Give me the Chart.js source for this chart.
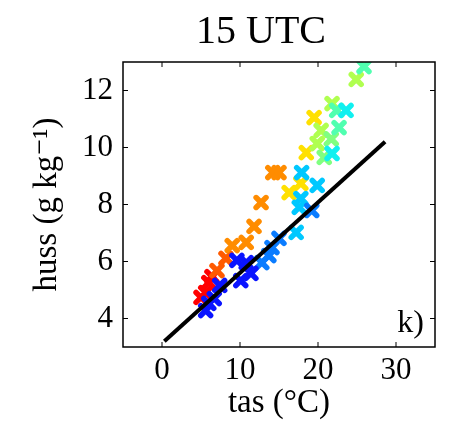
<!DOCTYPE html>
<html>
<head>
<meta charset="utf-8">
<script src="https://cdn.jsdelivr.net/npm/chart.js@4/dist/chart.umd.min.js"></script>
<style>
  body { margin: 0; background: #fff; }
  #wrap { width: 466px; height: 423px; }
</style>
</head>
<body>
<div id="wrap"><canvas id="chart" width="466" height="423"></canvas></div>
<script>
// axis ticks
const xTicks = [0, 10, 20, 30];
const yTicks = [4, 6, 8, 10, 12];

// scatter groups (tas in degC, huss in g/kg), one per colour
const tasRed = [5.0, 5.6, 6.0, 6.4];
const hussRed = [4.74, 4.91, 5.26, 5.47];
const tasOrangeRed = [7.05, 8.2];
const hussOrangeRed = [5.68, 6.11];
const tasOrange = [9.0, 10.8, 11.8, 12.7, 14.2, 15.0];
const hussOrange = [6.56, 6.67, 7.23, 8.07, 9.12, 9.12];
const tasYellow = [16.3, 17.8, 18.5, 19.5];
const hussYellow = [8.42, 8.74, 9.82, 11.05];
const tasYellowGreen = [19.9, 20.4, 21.8, 24.9];
const hussYellowGreen = [10.14, 10.6, 11.54, 12.39];
const tasGreen = [21.7, 20.8];
const hussGreen = [10.3, 9.65];
const tasCyanGreen = [22.4, 22.7, 25.9];
const hussCyanGreen = [11.3, 10.7, 12.84];
const tasCyan = [23.6, 21.8];
const hussCyan = [11.3, 9.79];
const tasSky = [17.9, 19.9, 17.8, 17.6, 17.2];
const hussSky = [9.12, 8.67, 8.21, 7.9, 7.02];
const tasAzure = [19.2, 15.0, 14.1, 13.7, 12.8];
const hussAzure = [7.79, 6.81, 6.49, 6.21, 5.96];
const tasBlue = [9.6, 10.8, 10.1, 11.4, 7.4, 6.7, 5.6, 6.0];
const hussBlue = [6.04, 5.96, 5.33, 5.58, 5.16, 4.70, 4.28, 4.53];

// fitted line end points
const tasFit = [0.3, 28.6];
const hussFit = [3.2, 10.2];

const titleText = '15 UTC';
const panelLabel = 'k)';

const groups = [
  [tasBlue, hussBlue, '#0a14ff'],
  [tasAzure, hussAzure, '#0a7cff'],
  [tasSky, hussSky, '#00c8ff'],
  [tasCyan, hussCyan, '#10f0f0'],
  [tasCyanGreen, hussCyanGreen, '#50ffb0'],
  [tasGreen, hussGreen, '#80ff80'],
  [tasYellowGreen, hussYellowGreen, '#b0ff50'],
  [tasYellow, hussYellow, '#ffe000'],
  [tasOrange, hussOrange, '#ff8c00'],
  [tasOrangeRed, hussOrangeRed, '#ff5a00'],
  [tasRed, hussRed, '#ff0000']
];

const serif = '"Liberation Serif", "DejaVu Serif", serif';

function pairs(xs, ys) {
  return xs.map((v, i) => ({ x: v, y: ys[i] }));
}

const datasets = [{
  type: 'line',
  data: pairs(tasFit, hussFit),
  borderColor: '#000',
  borderWidth: 4,
  pointRadius: 0,
  order: 0
}];
groups.forEach(g => {
  datasets.push({
    type: 'scatter',
    data: pairs(g[0], g[1]),
    pointStyle: 'crossRot',
    pointRadius: 7,
    pointBorderWidth: 5.5,
    borderColor: g[2],
    backgroundColor: g[2],
    order: 1
  });
});

// round ends on the x markers, like the matlab ones
const roundCaps = {
  id: 'roundCaps',
  beforeDatasetsDraw(chart) { chart.ctx.save(); chart.ctx.lineCap = 'round'; },
  afterDatasetsDraw(chart) { chart.ctx.restore(); }
};

// frame, inward ticks, title and panel label
const framePlugin = {
  id: 'frame',
  afterDraw(chart) {
    const { ctx, chartArea: a, scales: { x, y } } = chart;
    ctx.save();
    ctx.strokeStyle = '#000';
    ctx.lineWidth = 1.5;
    ctx.strokeRect(a.left, a.top, a.width, a.height);
    ctx.lineWidth = 1;
    ctx.beginPath();
    xTicks.forEach(v => {
      const px = x.getPixelForValue(v);
      ctx.moveTo(px, a.bottom); ctx.lineTo(px, a.bottom - 5);
      ctx.moveTo(px, a.top); ctx.lineTo(px, a.top + 5);
    });
    yTicks.forEach(v => {
      const py = y.getPixelForValue(v);
      ctx.moveTo(a.left, py); ctx.lineTo(a.left + 5, py);
      ctx.moveTo(a.right, py); ctx.lineTo(a.right - 5, py);
    });
    ctx.stroke();
    ctx.fillStyle = '#000';
    ctx.textBaseline = 'alphabetic';
    ctx.font = '40px ' + serif;
    ctx.textAlign = 'center';
    ctx.fillText(titleText, 261, 43);
    ctx.font = '32px ' + serif;
    ctx.textAlign = 'right';
    ctx.fillText(panelLabel, a.right - 11, a.bottom - 15);
    ctx.restore();
  }
};

new Chart(document.getElementById('chart'), {
  data: { datasets },
  options: {
    responsive: false,
    animation: false,
    events: [],
    layout: { padding: { top: 62, right: 31, bottom: 0, left: 0 } },
    plugins: { legend: { display: false }, tooltip: { enabled: false } },
    scales: {
      x: {
        type: 'linear',
        min: -5,
        max: 35,
        afterBuildTicks: s => { s.ticks = xTicks.map(v => ({ value: v })); },
        afterFit: s => { s.height = 76; },
        grid: { display: false, drawTicks: false },
        border: { display: false },
        ticks: { color: '#000', padding: 5, font: { family: serif, size: 31 } },
        title: {
          display: true,
          text: 'tas (°C)',
          color: '#000',
          padding: { top: 0, bottom: 0 },
          font: { family: serif, size: 33 }
        }
      },
      y: {
        type: 'linear',
        min: 3,
        max: 13,
        afterBuildTicks: s => { s.ticks = yTicks.map(v => ({ value: v })); },
        afterFit: s => { s.width = 123; },
        grid: { display: false, drawTicks: false },
        border: { display: false },
        ticks: { color: '#000', padding: 10, font: { family: serif, size: 31 } },
        title: {
          display: true,
          text: 'huss (g kg⁻¹)',
          color: '#000',
          padding: { top: 28, bottom: 0 },
          font: { family: serif, size: 33 }
        }
      }
    }
  },
  plugins: [roundCaps, framePlugin]
});
</script>
</body>
</html>
